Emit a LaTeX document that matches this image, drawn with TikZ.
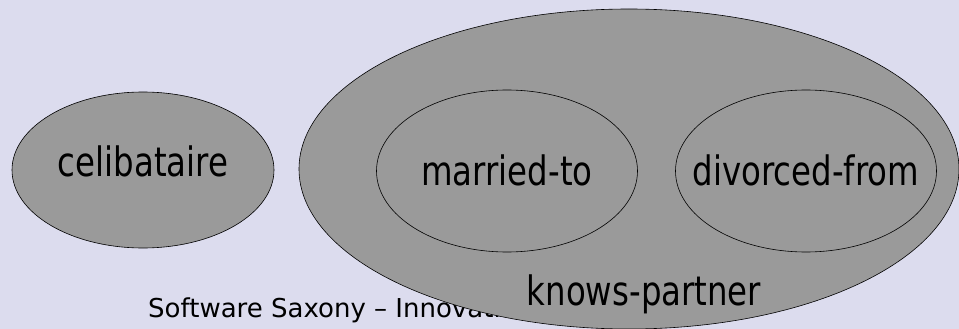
\documentclass[tikz,border=0pt]{standalone}
\usepackage{graphicx}
\usepackage{fontspec}
\setmainfont{DejaVu Sans}
\usetikzlibrary{shapes.geometric}
\definecolor{bg}{RGB}{220,220,238}
\definecolor{setfill}{RGB}{154,154,154}
\newcommand{\narrowtext}[1]{\scalebox{0.8}[1]{#1}}
\tikzset{
  setshape/.style={ellipse, draw=black, line width=0.6pt, fill=setfill, inner sep=0pt},
  setlabel/.style={font=\fontsize{40.5}{40}\selectfont, text=black, inner sep=0pt, anchor=base},
}
\begin{document}
\begin{tikzpicture}[x=1pt,y=-1pt]
\fill[bg] (0,0) rectangle (959,329);
\useasboundingbox (0,0) rectangle (959,329);
\node[anchor=base west, inner sep=0pt, font=\fontsize{26}{26}\selectfont] (footer) at (148,317) {Software Saxony – Innovation};
\node[setshape, minimum width=660pt, minimum height=320pt] (kp) at (629,169) {};
\node[setshape, minimum width=261pt, minimum height=162pt] (mt) at (507,171) {};
\node[setshape, minimum width=261pt, minimum height=162pt] (df) at (806,171) {};
\node[setshape, minimum width=262pt, minimum height=156pt] (cb) at (143,170) {};
\node[setlabel] (cbl) at (143,176) {\narrowtext{celibataire}};
\node[setlabel] (mtl) at (507,185) {\narrowtext{married-to}};
\node[setlabel] (dfl) at (806,185) {\narrowtext{divorced-from}};
\node[setlabel] (kpl) at (644,305) {\narrowtext{knows-partner}};
\end{tikzpicture}
\end{document}
